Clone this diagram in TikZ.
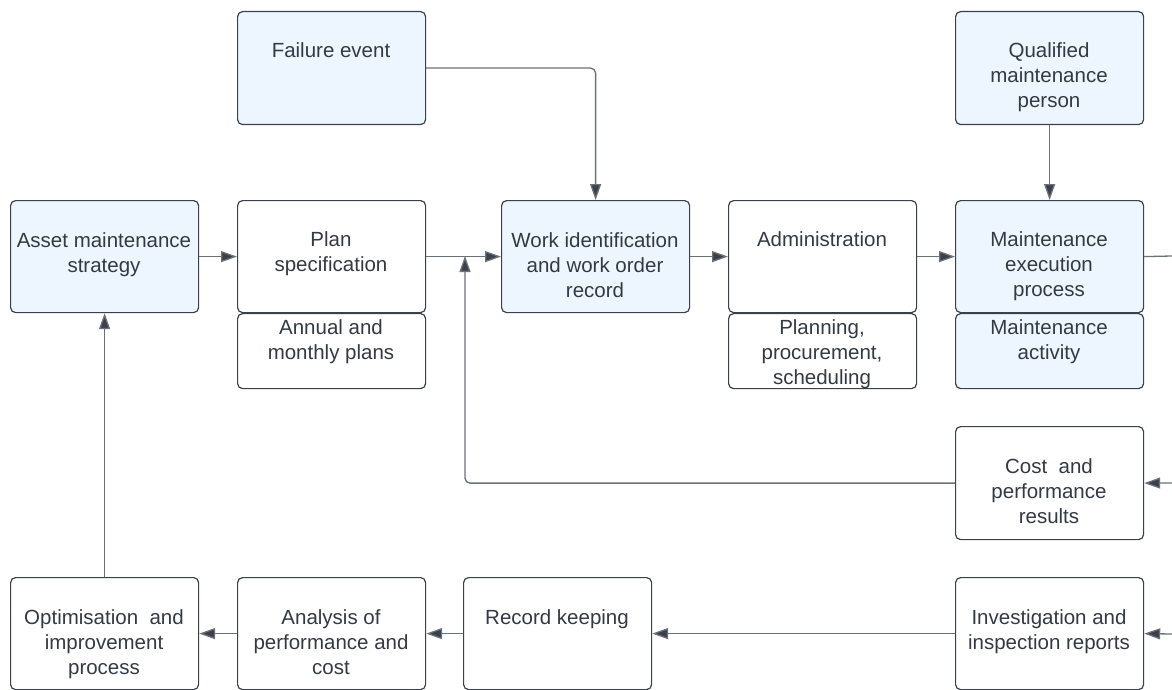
\documentclass[tikz,border=0pt]{standalone}
\usepackage{fontspec}
\setmainfont{Liberation Sans}
\usetikzlibrary{arrows.meta}
\definecolor{boxfill}{HTML}{EDF5FF}
\definecolor{boxline}{HTML}{3A414A}
\definecolor{conn}{HTML}{6B7079}
\definecolor{txtc}{HTML}{333A45}
\tikzset{
  box/.style={draw=boxline, line width=1.2pt, rounded corners=5pt, inner sep=0pt, anchor=north west, minimum width=188pt},
  bluebox/.style={box, fill=boxfill},
  whitebox/.style={box, fill=white},
  txt/.style={font=\fontsize{20.5}{25}\selectfont, text=txtc, align=center, inner sep=0pt, anchor=north},
  conn/.style={draw=conn, line width=1.3pt, rounded corners=5pt},
  arr/.style={conn, -{Triangle[length=16pt,width=11pt,fill=boxline]}}
}
\begin{document}
\begin{tikzpicture}[x=1pt,y=-1pt]
\useasboundingbox (0,0) rectangle (1172,690);
% boxes
\node[bluebox, minimum height=113pt] (fail) at (237,11) {};
\node[bluebox, minimum height=113pt] (qual) at (955,11) {};
\node[bluebox, minimum height=112pt] (asset) at (10,200) {};
\node[whitebox, minimum height=112pt] (plan) at (237,200) {};
\node[whitebox, minimum height=75pt] (annual) at (237,313) {};
\node[bluebox, minimum height=112pt] (work) at (501,200) {};
\node[whitebox, minimum height=112pt] (admin) at (728,200) {};
\node[whitebox, minimum height=75pt] (planning) at (728,313) {};
\node[bluebox, minimum height=112pt] (exec) at (955,200) {};
\node[bluebox, minimum height=75pt] (activity) at (955,313) {};
\node[whitebox, minimum height=113pt] (cost) at (955,426) {};
\node[whitebox, minimum height=112pt] (invest) at (955,577) {};
\node[whitebox, minimum height=112pt] (record) at (463,577) {};
\node[whitebox, minimum height=112pt] (analysis) at (237,577) {};
\node[whitebox, minimum height=112pt] (optim) at (10,577) {};
% texts
\node[txt] (tfail) at (331,39.5) {\strut Failure event};
\node[txt] (tqual) at (1049,39.5) {\strut Qualified\\maintenance\\person};
\node[txt] (tasset) at (104,229.5) {\strut Asset maintenance\\strategy};
\node[txt] (tplan) at (331,228.5) {\strut Plan\\specification};
\node[txt] (tannual) at (331,316.5) {\strut Annual and\\monthly plans};
\node[txt] (twork) at (595,229.5) {\strut Work identification\\and work order\\record};
\node[txt] (tadmin) at (822,228.5) {\strut Administration};
\node[txt] (tplanning) at (822,316.5) {\strut Planning,\\procurement,\\scheduling};
\node[txt] (texec) at (1049,228.5) {\strut Maintenance\\execution\\process};
\node[txt] (tactivity) at (1049,316.5) {\strut Maintenance\\activity};
\node[txt] (tcost) at (1049,455.5) {\strut Cost\ \ and\\performance\\results};
\node[txt] (tinvest) at (1049,606.5) {\strut Investigation and\\inspection reports};
\node[txt] (trecord) at (557,606.5) {\strut Record keeping};
\node[txt] (tanalysis) at (331,606.5) {\strut Analysis of\\performance and\\cost};
\node[txt] (toptim) at (104,606.5) {\strut Optimisation\ \ and\\improvement\\process};
% free ends at the right border
\coordinate (outexec) at (1172,256);
\coordinate (incost) at (1172,483);
\coordinate (ininvest) at (1172,634);
\coordinate (junc) at (465,256);
% connectors
\draw[arr] (asset.east) -- (plan.west);
\draw[arr] (plan.east) -- (work.west);
\draw[arr] (fail.east) -| (work.north);
\draw[arr] (work.east) -- (admin.west);
\draw[arr] (admin.east) -- (exec.west);
\draw[conn] (exec.east) -- (outexec);
\draw[arr] (qual.south) -- (exec.north);
\draw[arr] (incost) -- (cost.east);
\draw[arr] (cost.west) -| (junc);
\draw[arr] (ininvest) -- (invest.east);
\draw[arr] (invest.west) -- (record.east);
\draw[arr] (record.west) -- (analysis.east);
\draw[arr] (analysis.west) -- (optim.east);
\draw[arr] (optim.north) -- (asset.south);
\end{tikzpicture}
\end{document}
